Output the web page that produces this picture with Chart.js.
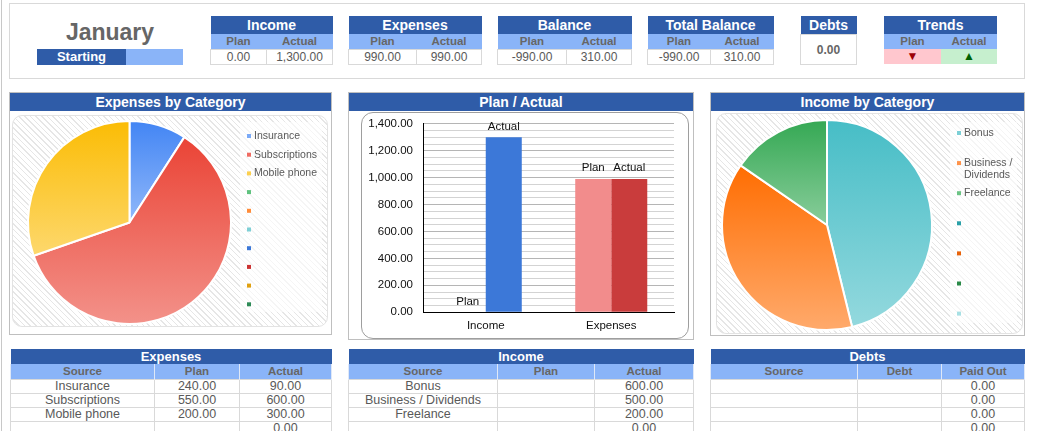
<!DOCTYPE html>
<html>
<head>
<meta charset="utf-8">
<script src="https://cdn.jsdelivr.net/npm/chart.js@4.4.1/dist/chart.umd.min.js"></script>
<style>
body { margin: 0; width: 1042px; height: 431px; overflow: hidden; background: #fff; position: relative;
       font-family: "Liberation Sans", Arial, sans-serif; }
.abs { position: absolute; box-sizing: border-box; }
table { position: absolute; border-collapse: collapse; table-layout: fixed; }
td { padding: 0; text-align: center; white-space: nowrap; overflow: hidden; }
.h td { background: #2f5ca8; color: #fff; font-weight: bold; font-size: 14px; height: 18px; line-height: 18px; }
.s td { background: #8ab4f8; color: #666; font-weight: bold; font-size: 11.5px; height: 15px; line-height: 15px; }
.v td { border: 1px solid #d9d9d9; color: #595959; font-size: 12px; height: 14px; line-height: 14px; }
.t .h td { font-size: 13px; height: 15px; line-height: 15px; }
.t .s td { border-left: 1px solid #dfe8f7; border-right: 1px solid #dfe8f7; }
.t .v td { font-size: 12.5px; height: 13px; line-height: 13px; }
.panelHead { background: #2f5ca8; color: #fff; font-weight: bold; font-size: 14px; text-align: center;
             height: 18px; line-height: 18px; }
.hatch { border: 1px solid #e3e3e3; border-radius: 10px;
         background: repeating-linear-gradient(45deg, #e6e6e6 0 1px, #fff 1px 4px); }
.legendPad { background: rgba(255,255,255,0.6); }
</style>
</head>
<body>
<div id="top"></div>
<script>
// ---- data read from the sheet ----
const monthName = "January";
const summaryTitles = ["Income", "Expenses", "Balance", "Total Balance"];
const summaryPlan = [0, 990, -990, -990];
const summaryActual = [1300, 990, 310, 310];
const debtsTotal = 0;
const trendPlan = "▼";
const trendActual = "▲";

const expenseCategories = ["Insurance", "Subscriptions", "Mobile phone", "", "", "", "", "", "", ""];
const expensePlan = [240, 550, 200, null, null, null, null, null, null, null];
const expenseActual = [90, 600, 300, 0, 0, 0, 0, 0, 0, 0];

const incomeCategories = ["Bonus", "Business / Dividends", "Freelance", "", "", "", ""];
const incomePlan = [null, null, null, null, null, null, null];
const incomeActual = [600, 500, 200, 0, 0, 0, 0];

const debtSources = ["", "", "", "", ""];
const debtAmounts = [null, null, null, null, null];
const debtPaid = [0, 0, 0, 0, 0];

const barCategories = ["Income", "Expenses"];
const barPlan = [0, 990];
const barActual = [1300, 990];

// ---- colours ----
const expenseColors = ["#4285f4", "#ea4335", "#fbbc04", "#34a853", "#ff6d01", "#46bdc6", "#3c78d8", "#cc3333", "#e0a010", "#2e8b57"];
const expenseLegendColors = ["#7baaf7", "#ef6b62", "#fcd04f", "#5fc27e", "#ff8c3a", "#7ed0d6", "#3c78d8", "#cc3333", "#e0a010", "#2e8b57"];
const incomeColors = ["#46bdc6", "#ff6d01", "#34a853", "#2aa0a8", "#e8630a", "#2a8a48", "#a8e0e4"];
const incomeLegendColors = ["#7ccfd6", "#ff934a", "#6cc485", "#2aa0a8", "#e8630a", "#2a8a48", "#a8e0e4"];
const planBarColors = ["#f28c8c", "#f28c8c"];
const actualBarColors = ["#3c78d8", "#c93c3c"];

const FONT = '"Liberation Sans", Arial, sans-serif';
const fmt = v => (v === null || v === undefined) ? "" :
  v.toLocaleString("en-US", { minimumFractionDigits: 2, maximumFractionDigits: 2 });

// ---- page layout ----
let html = "";
html += '<div class="abs" style="left:1px;top:0;width:1px;height:431px;background:#c8c8c8"></div>';
html += '<div class="abs" style="left:9px;top:3px;width:1016px;height:76px;border:1px solid #d9d9d9"></div>';
html += `<div class="abs" style="left:30px;top:19px;width:160px;text-align:center;font-size:23px;font-weight:bold;color:#666">${monthName}</div>`;
html += '<div class="abs" style="left:37px;top:49px;width:89px;height:16px;background:#2f5ca8;color:#fff;font-weight:bold;font-size:13px;line-height:16px;text-align:center">Starting</div>';
html += '<div class="abs" style="left:126px;top:49px;width:57px;height:16px;background:#8ab4f8"></div>';

const sumBoxes = [[210, 56, 66], [348, 68, 65], [497, 69, 65], [647, 63, 63]];
summaryTitles.forEach((t, i) => {
  const [x, w1, w2] = sumBoxes[i];
  html += `<table style="left:${x}px;top:16px;width:${w1 + w2}px"><colgroup><col style="width:${w1}px"><col style="width:${w2}px"></colgroup>
    <tr class="h"><td colspan="2">${t}</td></tr>
    <tr class="s"><td>Plan</td><td>Actual</td></tr>
    <tr class="v"><td>${fmt(summaryPlan[i])}</td><td>${fmt(summaryActual[i])}</td></tr></table>`;
});
html += `<table style="left:800px;top:16px;width:57px"><tr class="h"><td>Debts</td></tr>
  <tr class="v"><td style="height:29px;font-weight:bold;color:#666">${fmt(debtsTotal)}</td></tr></table>`;
html += `<table style="left:884px;top:16px;width:113px"><colgroup><col style="width:57px"><col style="width:56px"></colgroup>
  <tr class="h"><td colspan="2">Trends</td></tr>
  <tr class="s"><td>Plan</td><td>Actual</td></tr>
  <tr><td style="background:#ffc7ce;color:#9c0006;font-size:12px;height:15px;line-height:15px">${trendPlan}</td>
      <td style="background:#c6efce;color:#006100;font-size:12px;height:15px;line-height:15px">${trendActual}</td></tr></table>`;

// middle panels
html += '<div class="abs" style="left:9px;top:92px;width:323px;height:243px;border:1px solid #bfbfbf"></div>';
html += '<div class="abs panelHead" style="left:10px;top:93px;width:321px">Expenses by Category</div>';
html += '<div class="abs hatch" style="left:12px;top:115px;width:316px;height:212px"></div>';
html += '<div class="abs legendPad" style="left:240px;top:122px;width:82px;height:190px"></div>';
html += '<canvas id="expPie" class="abs" width="316" height="212" style="left:12px;top:115px"></canvas>';

html += '<div class="abs" style="left:348px;top:92px;width:346px;height:248px;border:1px solid #bfbfbf"></div>';
html += '<div class="abs panelHead" style="left:349px;top:93px;width:344px">Plan / Actual</div>';
html += '<div class="abs" style="left:361px;top:112px;width:328px;height:227px;border:1px solid #9e9e9e;border-radius:12px;background:#fff"></div>';
html += '<canvas id="planBar" class="abs" width="327" height="239" style="left:361px;top:107px"></canvas>';

html += '<div class="abs" style="left:710px;top:92px;width:315px;height:244px;border:1px solid #bfbfbf"></div>';
html += '<div class="abs panelHead" style="left:711px;top:93px;width:313px">Income by Category</div>';
html += '<div class="abs hatch" style="left:716px;top:113px;width:307px;height:221px"></div>';
html += '<div class="abs legendPad" style="left:950px;top:122px;width:67px;height:201px"></div>';
html += '<canvas id="incPie" class="abs" width="307" height="221" style="left:716px;top:113px"></canvas>';

// bottom tables
function bottomTable(x, widths, title, heads, cols) {
  let s = `<table class="t" style="left:${x}px;top:349px;width:${widths.reduce((a, b) => a + b, 0)}px"><colgroup>`;
  widths.forEach(w => s += `<col style="width:${w}px">`);
  s += `</colgroup><tr class="h"><td colspan="${widths.length}">${title}</td></tr><tr class="s">`;
  heads.forEach(h => s += `<td>${h}</td>`);
  s += "</tr>";
  cols[0].forEach((_, r) => {
    s += '<tr class="v">';
    cols.forEach((c, k) => s += `<td>${k === 0 ? c[r] : fmt(c[r])}</td>`);
    s += "</tr>";
  });
  return s + "</table>";
}
html += bottomTable(10, [144, 85, 92], "Expenses", ["Source", "Plan", "Actual"], [expenseCategories, expensePlan, expenseActual]);
html += bottomTable(348, [149, 97, 99], "Income", ["Source", "Plan", "Actual"], [incomeCategories, incomePlan, incomeActual]);
html += bottomTable(710, [147, 84, 83], "Debts", ["Source", "Debt", "Paid Out"], [debtSources, debtAmounts, debtPaid]);
document.getElementById("top").innerHTML = html;

// ---- chart helpers ----
function mixWhite(hex, t) {
  const n = parseInt(hex.slice(1), 16);
  const ch = [(n >> 16) & 255, (n >> 8) & 255, n & 255].map(c => Math.round(c + (255 - c) * t));
  return `rgb(${ch[0]},${ch[1]},${ch[2]})`;
}

// each slice fades from its base colour at its top to a lighter tint at its bottom
function sliceGradient(c, colors) {
  const chart = c.chart, area = chart.chartArea;
  const base = colors[c.dataIndex];
  if (!area) return base;
  const vals = chart.data.datasets[0].data;
  const total = vals.reduce((s, v) => s + v, 0);
  let a0 = -Math.PI / 2;
  for (let i = 0; i < c.dataIndex; i++) a0 += vals[i] / total * 2 * Math.PI;
  const a1 = a0 + vals[c.dataIndex] / total * 2 * Math.PI;
  const cy = (area.top + area.bottom) / 2;
  const r = Math.min(area.width, area.height) / 2;
  const ys = [cy, cy + r * Math.sin(a0), cy + r * Math.sin(a1)];
  if (a0 < Math.PI / 2 && a1 > Math.PI / 2) ys.push(cy + r);
  const y0 = Math.min(...ys), y1 = Math.max(...ys);
  if (y1 - y0 < 1) return base;
  const g = chart.ctx.createLinearGradient(0, y0, 0, y1);
  g.addColorStop(0, base);
  g.addColorStop(1, mixWhite(base, 0.42));
  return g;
}

const sideLegend = {
  id: "sideLegend",
  afterDraw(chart, args, opts) {
    const ctx = chart.ctx;
    ctx.save();
    ctx.font = "10.5px " + FONT;
    ctx.textBaseline = "middle";
    let y = opts.top;
    chart.data.labels.forEach((lab, i) => {
      ctx.fillStyle = opts.colors[i];
      ctx.fillRect(opts.x, y - 2, 4, 4);
      ctx.fillStyle = "#595959";
      // wrap long names like Sheets does
      const lines = [];
      let cur = "";
      lab.split(" ").forEach(w => {
        const test = cur ? cur + " " + w : w;
        if (cur && ctx.measureText(test).width > opts.maxWidth) { lines.push(cur); cur = w; }
        else cur = test;
      });
      lines.push(cur);
      lines.forEach((ln, k) => ctx.fillText(ln, opts.x + 7, y + k * 12));
      y += opts.step;
    });
    ctx.restore();
  }
};

function pieChart(id, labels, values, colors, legendColors, padding, legend) {
  new Chart(document.getElementById(id), {
    type: "pie",
    data: {
      labels: labels,
      datasets: [{
        data: values,
        backgroundColor: c => sliceGradient(c, colors),
        borderColor: "#fff",
        borderWidth: 2
      }]
    },
    options: {
      responsive: false,
      animation: false,
      devicePixelRatio: 1,
      layout: { padding: padding },
      plugins: {
        legend: { display: false },
        tooltip: { enabled: false },
        sideLegend: Object.assign({ colors: legendColors }, legend)
      }
    },
    plugins: [sideLegend]
  });
}

pieChart("expPie", expenseCategories, expenseActual, expenseColors, expenseLegendColors,
  { top: 5, bottom: 2, left: 15, right: 96 }, { x: 235, top: 21, step: 18.7, maxWidth: 80 });
pieChart("incPie", incomeCategories, incomeActual, incomeColors, incomeLegendColors,
  { top: 6, bottom: 3, left: 5, right: 90 }, { x: 241, top: 20, step: 30.1, maxWidth: 62 });

// series name above every bar
const seriesLabels = {
  id: "seriesLabels",
  afterDatasetsDraw(chart) {
    const ctx = chart.ctx;
    ctx.save();
    ctx.font = "11.5px " + FONT;
    ctx.fillStyle = "#111";
    ctx.textAlign = "center";
    ctx.textBaseline = "bottom";
    chart.data.datasets.forEach((ds, i) => {
      chart.getDatasetMeta(i).data.forEach(bar => ctx.fillText(ds.label, bar.x, bar.y - 5));
    });
    ctx.restore();
  }
};

new Chart(document.getElementById("planBar"), {
  type: "bar",
  data: {
    labels: barCategories,
    datasets: [
      { label: "Plan", data: barPlan, backgroundColor: planBarColors, categoryPercentage: 0.574, barPercentage: 1 },
      { label: "Actual", data: barActual, backgroundColor: actualBarColors, categoryPercentage: 0.574, barPercentage: 1 }
    ]
  },
  options: {
    responsive: false,
    animation: false,
    devicePixelRatio: 1,
    layout: { padding: { top: 4, right: 14, bottom: 6, left: 0 } },
    plugins: { legend: { display: false }, tooltip: { enabled: false } },
    scales: {
      x: {
        grid: { display: false, drawTicks: false },
        border: { color: "#000" },
        ticks: { color: "#111", font: { family: FONT, size: 11.5 }, padding: 7 }
      },
      y: {
        min: 0,
        max: 1400,
        border: { color: "#000" },
        grid: { drawTicks: false, color: c => c.tick && c.tick.value % 200 === 0 ? "#b5b5b5" : "#d3d3d3" },
        ticks: {
          stepSize: 50,
          autoSkip: false,
          padding: 10,
          color: "#111",
          font: { family: FONT, size: 11.5 },
          callback: v => v % 200 === 0 ? fmt(v) : ""
        },
        afterFit: s => { s.width = 62; }
      }
    }
  },
  plugins: [seriesLabels]
});
</script>
</body>
</html>
